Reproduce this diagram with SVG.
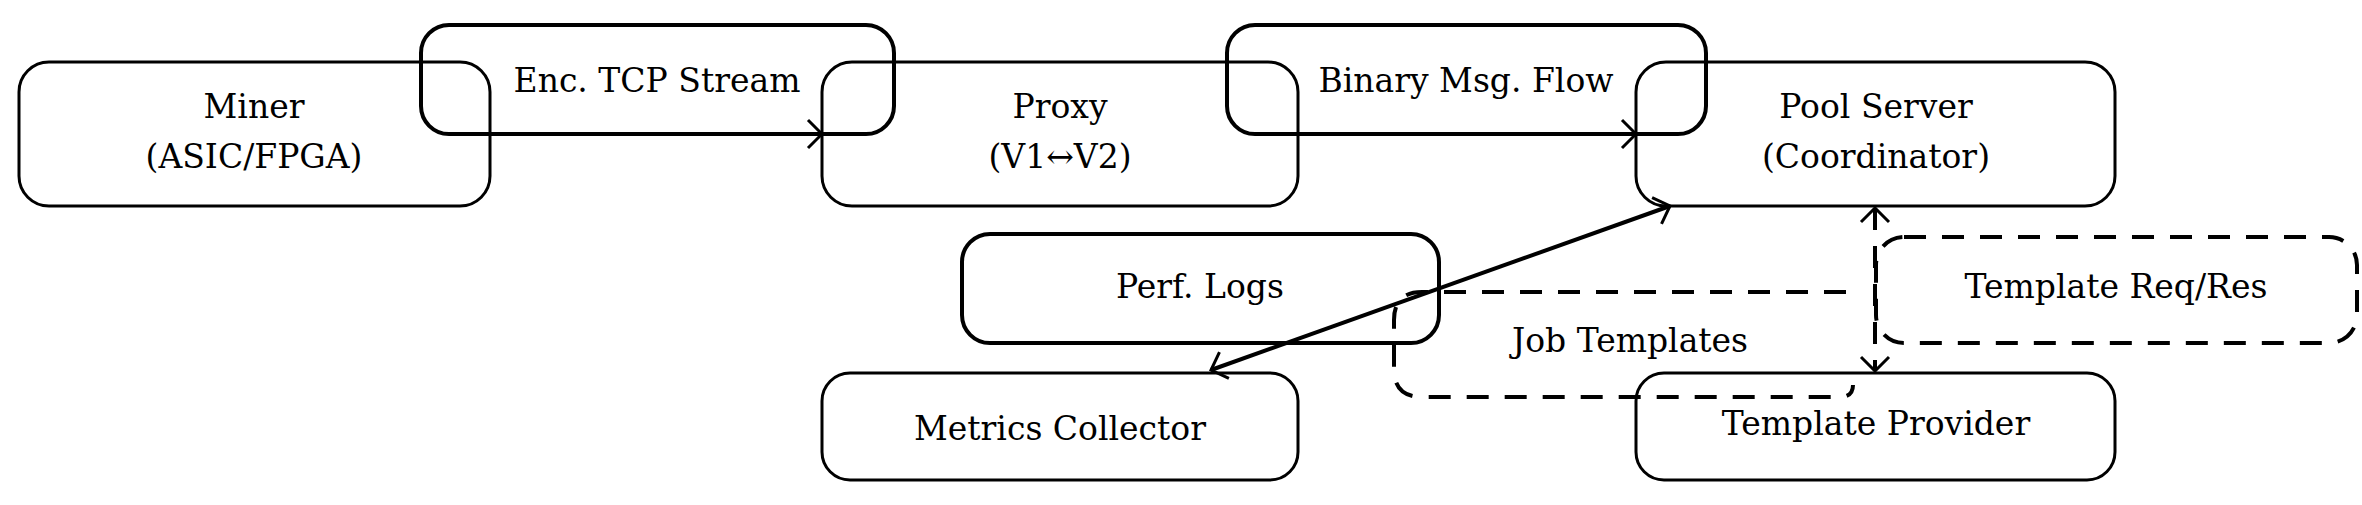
<svg xmlns="http://www.w3.org/2000/svg" width="2362" height="505" viewBox="0 0 2362 505">
<style>
.n{fill:none;stroke:#000;stroke-width:3}
.l{fill:none;stroke:#000;stroke-width:4}
.d{fill:none;stroke:#000;stroke-width:4;stroke-dasharray:22,16}
.c{fill:none;stroke:#000;stroke-width:4}
.t{font-family:'DejaVu Serif','Liberation Serif',serif;font-size:33px;text-anchor:middle;fill:#000}
</style>
<defs>
<marker id="a" viewBox="-16 -16 18 32" refX="0" refY="0" markerWidth="18" markerHeight="32" markerUnits="userSpaceOnUse" orient="auto-start-reverse">
<path d="M-14,-14 Q-3,-3 0,0 Q-3,3 -14,14" fill="none" stroke="#000" stroke-width="3"/>
</marker>
</defs>
<rect width="2362" height="505" fill="#fff"/>
<g class="t" font-family="DejaVu Serif, serif">
<g id="miner"><rect class="n" x="19" y="62" width="471" height="144" rx="30"/><text x="254" y="118">Miner</text><text x="254" y="168">(ASIC/FPGA)</text></g>
<g id="proxy"><rect class="n" x="822" y="62" width="476" height="144" rx="30"/><text x="1060" y="118">Proxy</text><text x="1060" y="168">(V1↔V2)</text></g>
<g id="pool"><rect class="n" x="1636" y="62" width="479" height="144" rx="30"/><text x="1876" y="118">Pool Server</text><text x="1876" y="168">(Coordinator)</text></g>
<g id="perf"><rect class="l" x="962" y="234" width="477" height="109" rx="28"/><text x="1200" y="298">Perf. Logs</text></g>
<g id="metrics"><rect class="n" x="822" y="373" width="476" height="107" rx="28"/><text x="1060" y="440">Metrics Collector</text></g>
<g id="provider"><rect class="n" x="1636" y="373" width="479" height="107" rx="28"/><text x="1876" y="435">Template Provider</text></g>
<g id="connectors">
<line class="c" x1="490" y1="134" x2="822" y2="134" marker-end="url(#a)"/>
<line class="c" x1="1298" y1="134" x2="1636" y2="134" marker-end="url(#a)"/>
<line class="c" x1="1211" y1="370" x2="1670" y2="206" marker-start="url(#a)" marker-end="url(#a)"/>
<line class="d" x1="1875" y1="208" x2="1875" y2="371" marker-start="url(#a)" marker-end="url(#a)"/>
</g>
<g id="labels">
<rect class="l" x="421" y="25" width="473" height="109" rx="28"/><text x="657" y="92">Enc. TCP Stream</text>
<rect class="l" x="1227" y="25" width="479" height="109" rx="28"/><text x="1466" y="92">Binary Msg. Flow</text>
<rect class="d" x="1876" y="237" width="481" height="106" rx="28"/><text x="2116" y="298">Template Req/Res</text>
<path class="d" d="M1846,292 H1422 Q1394,292 1394,320 V369 Q1394,397 1422,397 H1840 Q1853,397 1853,385"/><text x="1630" y="352">Job Templates</text>
</g>
</g>
</svg>
